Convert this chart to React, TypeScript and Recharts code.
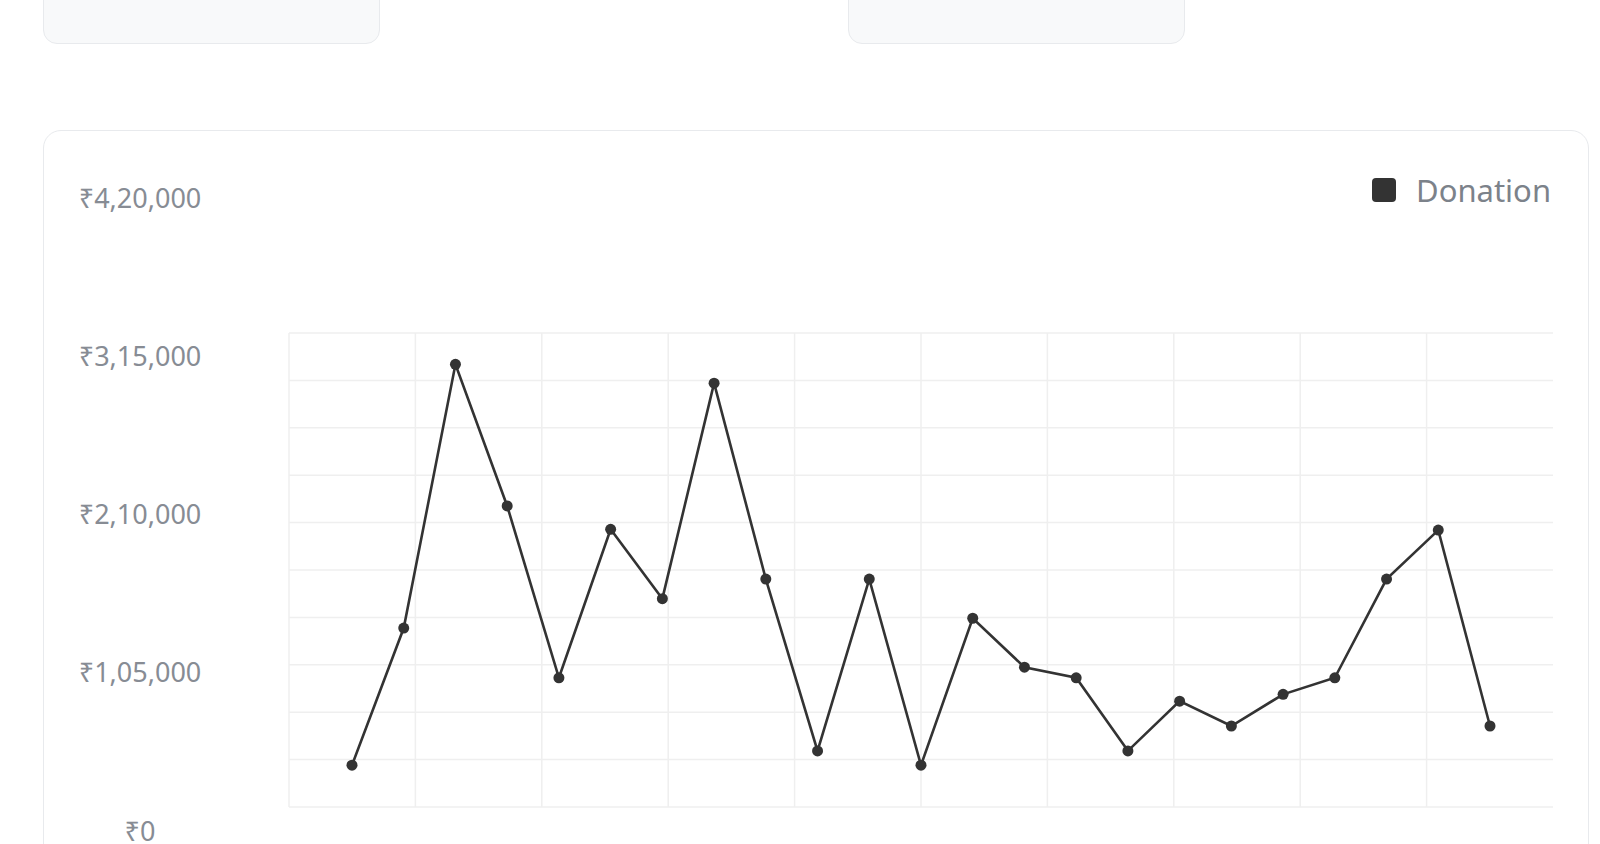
import {
  LineChart,
  Line,
  XAxis,
  YAxis,
  CartesianGrid,
  Legend,
} from "recharts";

const DAYS = [
  "01", "02", "03", "04", "05", "06", "07", "08", "09", "10", "11", "12",
  "13", "14", "15", "16", "17", "18", "19", "20", "21", "22", "23",
];

const DONATIONS = [
  43000, 134000, 309000, 215000, 101000, 199500, 153500, 296500, 166500,
  52500, 166500, 43000, 140500, 108000, 101000, 52500, 85500, 69000, 90000,
  101000, 166500, 199000, 69000,
];

const Y_TICKS = [0, 105000, 210000, 315000, 420000];

// background grid of the chart area (10 x 10 cells, no right edge line)
const GRID_STEPS = [0, 1, 2, 3, 4, 5, 6, 7, 8, 9, 10];
const GRID_X_LINES = [0, 1, 2, 3, 4, 5, 6, 7, 8, 9];

const FONT = '"Noto Sans", "DejaVu Sans", sans-serif';
const LINE_COLOR = "#333333";

const data = DAYS.map((day, i) => ({ day, donation: DONATIONS[i] }));
const gridData = GRID_STEPS.map((step) => ({ step }));

const formatRupee = (v: number) => "₹" + v.toLocaleString("en-IN");

const RupeeTick = ({ y, payload }: any) => (
  <text
    x={140}
    y={y}
    textAnchor="middle"
    dominantBaseline="central"
    fill="#878c94"
    fontSize={27}
    fontFamily={FONT}
  >
    {formatRupee(payload.value)}
  </text>
);

const LegendContent = () => (
  <div style={{ display: "flex", alignItems: "center", gap: 20 }}>
    <span
      style={{
        width: 24,
        height: 24,
        borderRadius: 4,
        background: LINE_COLOR,
        display: "inline-block",
      }}
    />
    <span style={{ fontSize: 31, color: "#7c828a", fontFamily: FONT }}>
      Donation
    </span>
  </div>
);

const card = (left: number, top: number, width: number, height: number) => ({
  position: "absolute" as const,
  left,
  top,
  width,
  height,
  boxSizing: "border-box" as const,
  borderRadius: 14,
});

const App = () => {
  return (
    <div
      style={{
        position: "absolute",
        left: 0,
        top: 0,
        width: 1600,
        height: 844,
        overflow: "hidden",
        background: "#ffffff",
        fontFamily: FONT,
      }}
    >
      <div
        style={{
          ...card(43, -30, 337, 74),
          background: "#f8f9fa",
          border: "1.5px solid #e8eaed",
        }}
      />
      <div
        style={{
          ...card(848, -30, 337, 74),
          background: "#f8f9fa",
          border: "1.5px solid #e8eaed",
        }}
      />
      <div
        style={{
          ...card(43, 130, 1546, 760),
          borderRadius: 18,
          border: "1.5px solid #e8eaed",
        }}
      />

      <div style={{ position: "absolute", left: 0, top: 0 }}>
        <LineChart
          width={1600}
          height={844}
          data={gridData}
          margin={{ top: 333, right: 47, bottom: 37, left: 289 }}
        >
          <CartesianGrid
            stroke="#efefef"
            strokeWidth={1.5}
            horizontalValues={GRID_STEPS}
            verticalValues={GRID_X_LINES}
          />
          <XAxis
            dataKey="step"
            type="number"
            domain={[0, 10]}
            ticks={GRID_X_LINES}
            interval={0}
            hide
          />
          <YAxis
            type="number"
            domain={[0, 10]}
            ticks={GRID_STEPS}
            interval={0}
            hide
          />
          <Line
            dataKey="step"
            stroke="none"
            dot={false}
            activeDot={false}
            isAnimationActive={false}
          />
        </LineChart>
      </div>

      <div style={{ position: "absolute", left: 0, top: 0 }}>
        <LineChart
          width={1600}
          height={844}
          data={data}
          margin={{ top: 197, right: 110, bottom: 14, left: 0 }}
        >
          <XAxis dataKey="day" hide />
          <YAxis
            width={352}
            domain={[0, 420000]}
            ticks={Y_TICKS}
            tick={<RupeeTick />}
            axisLine={false}
            tickLine={false}
            interval={0}
          />
          <Legend
            layout="horizontal"
            verticalAlign="middle"
            align="center"
            wrapperStyle={{ top: 169, left: 1372, width: "auto" }}
            content={<LegendContent />}
          />
          <Line
            type="linear"
            dataKey="donation"
            name="Donation"
            stroke={LINE_COLOR}
            strokeWidth={2.6}
            dot={{ r: 5.5, fill: LINE_COLOR, stroke: LINE_COLOR, strokeWidth: 0 }}
            activeDot={false}
            isAnimationActive={false}
          />
        </LineChart>
      </div>
    </div>
  );
};

export default App;
